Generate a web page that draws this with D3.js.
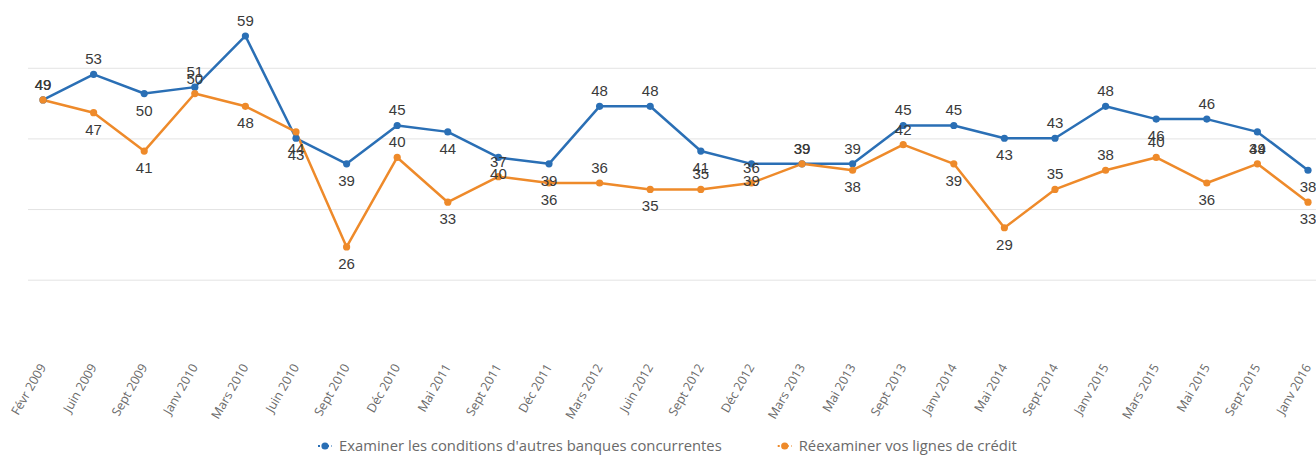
<!DOCTYPE html>
<html>
<head>
<meta charset="utf-8">
<script src="https://cdn.jsdelivr.net/npm/d3@7/dist/d3.min.js"></script>
<style>
  html, body { margin: 0; padding: 0; background: #ffffff; }
  svg { display: block; }
</style>
</head>
<body>
<svg id="chart" width="1316" height="455"></svg>
<script>
const categories = ["Févr 2009","Juin 2009","Sept 2009","Janv 2010","Mars 2010","Juin 2010","Sept 2010","Déc 2010","Mai 2011","Sept 2011","Déc 2011","Mars 2012","Juin 2012","Sept 2012","Déc 2012","Mars 2013","Mai 2013","Sept 2013","Janv 2014","Mai 2014","Sept 2014","Janv 2015","Mars 2015","Mai 2015","Sept 2015","Janv 2016"];
const seriesNames = ["Examiner les conditions d'autres banques concurrentes", "Réexaminer vos lignes de crédit"];
const examinerValues = [49,53,50,51,59,43,39,45,44,40,39,48,48,41,39,39,39,45,45,43,43,48,46,46,44,38];
const reexaminerValues = [49,47,41,50,48,44,26,40,33,37,36,36,35,35,36,39,38,42,39,29,35,38,40,36,39,33];
const gridValues = [20.8, 31.85, 42.9, 53.95];

const colors = ["#2a6fb5", "#ee8a2a"];
const svg = d3.select("#chart");

const x = d3.scalePoint().domain(categories).range([43, 1308]);
const y = d3.scaleLinear().domain([20, 60]).range([285.3, 29.6]);

// gridlines
svg.append("g").selectAll("line").data(gridValues).join("line")
  .attr("x1", 28).attr("x2", 1316)
  .attr("y1", d => y(d)).attr("y2", d => y(d))
  .attr("stroke", "#e3e3e3").attr("stroke-width", 1);

// x axis labels
const xAxis = d3.axisBottom(x).tickSize(0).tickPadding(0);
const gx = svg.append("g").attr("transform", "translate(0,367)").call(xAxis);
gx.select(".domain").remove();
gx.selectAll("text")
  .attr("font-family", "'Open Sans', sans-serif")
  .attr("font-size", 12.5)
  .attr("fill", "#6a6a6a")
  .attr("text-anchor", "end")
  .attr("dy", 0)
  .attr("y", 0)
  .attr("transform", "translate(3,0) rotate(-60)");

const series = [examinerValues, reexaminerValues];
const line = d3.line().x((d, i) => x(categories[i])).y(d => y(d));

series.forEach((vals, s) => {
  svg.append("path").datum(vals)
    .attr("d", line)
    .attr("fill", "none")
    .attr("stroke", colors[s])
    .attr("stroke-width", 2.5)
    .attr("stroke-linejoin", "round");
});
series.forEach((vals, s) => {
  svg.append("g").selectAll("circle").data(vals).join("circle")
    .attr("cx", (d, i) => x(categories[i]))
    .attr("cy", d => y(d))
    .attr("r", 3.6)
    .attr("fill", colors[s]);
});
series.forEach((vals, s) => {
  svg.append("g").selectAll("text").data(vals).join("text")
    .attr("x", (d, i) => x(categories[i]))
    .attr("y", (d, i) => (i === 0 || d >= vals[i - 1]) ? y(d) - 10 : y(d) + 22)
    .attr("text-anchor", "middle")
    .attr("font-family", "Arial, 'Liberation Sans', sans-serif")
    .attr("font-size", 15)
    .attr("fill", "#3a3a3a")
    .text(d => d);
});

// legend
const legend = svg.append("g");
const items = [];
seriesNames.forEach((name, s) => {
  const g = legend.append("g");
  g.append("line").attr("x1", 0).attr("x2", 14).attr("y1", 0).attr("y2", 0)
    .attr("stroke", colors[s]).attr("stroke-width", 2).attr("stroke-dasharray", "2,2.5");
  g.append("circle").attr("cx", 7).attr("cy", 0).attr("r", 3.6).attr("fill", colors[s]);
  const t = g.append("text").attr("x", 21).attr("y", 5)
    .attr("font-family", "'Open Sans', sans-serif")
    .attr("font-size", 14.8)
    .attr("fill", "#6a6a6a")
    .text(name);
  const w = 21 + t.node().getComputedTextLength();
  items.push({ g, w });
});
let startX = 318;
items.forEach((it) => {
  it.g.attr("transform", `translate(${startX},446)`);
  startX += it.w + 56;
});
</script>
</body>
</html>
